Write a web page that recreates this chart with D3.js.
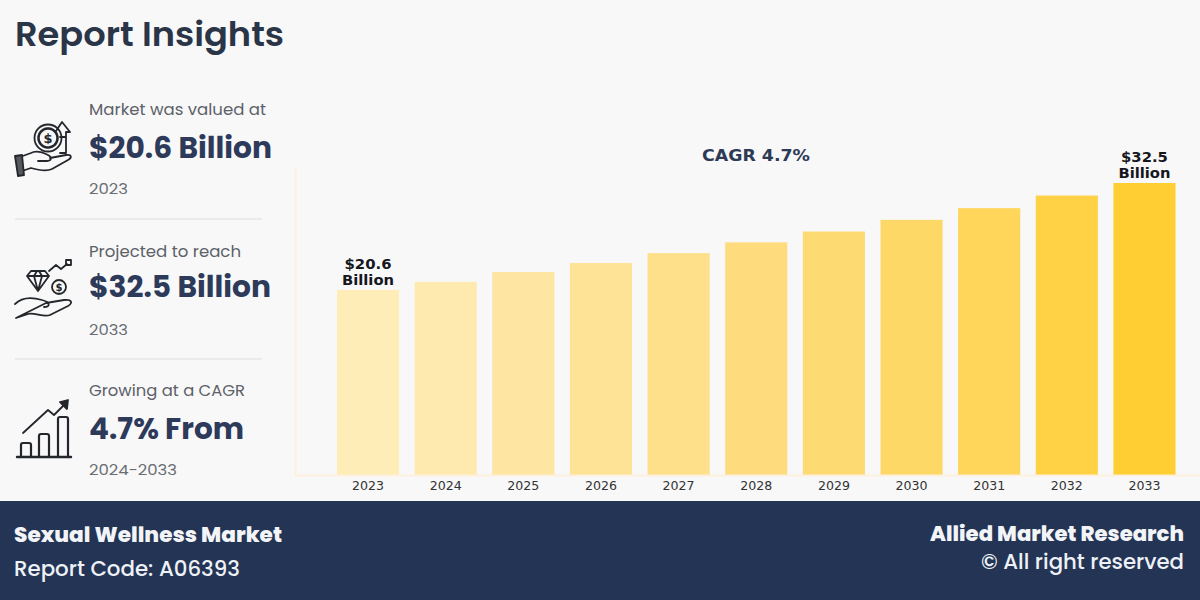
<!DOCTYPE html>
<html><head><meta charset="utf-8">
<script src="https://d3js.org/d3.v7.min.js"></script>
<style>html,body{margin:0;padding:0;background:#f8f8f9;overflow:hidden}svg{display:block}</style>
</head><body><svg id="c" width="1200" height="600"></svg>
<script>
const years = ["2023","2024","2025","2026","2027","2028","2029","2030","2031","2032","2033"];
const marketValues = [20.6,21.5,22.6,23.6,24.7,25.9,27.1,28.4,29.7,31.1,32.5];
const barColors = ["#FEEDB7","#FEEAAE","#FEE5A2","#FEE296","#FEDF8A","#FEDC7E","#FEDA73","#FED867","#FFD55A","#FFD145","#FFCE33"];
const calloutYears = ["2023","2033"];
const calloutLines = {"2023":["$20.6","Billion"],"2033":["$32.5","Billion"]};
const chartTitle = "Report Insights";
const cagrLabel = "CAGR 4.7%";
const footerLeft = ["Sexual Wellness Market","Report Code: A06393"];
const footerRight = ["Allied Market Research","© All right reserved"];
const panelIntro = ["Market was valued at","Projected to reach","Growing at a CAGR"];
const panelValue = ["$20.6 Billion","$32.5 Billion","4.7% From"];
const panelNote = ["2023","2033","2024-2033"];

const svg = d3.select("#c");
const ui = "Poppins, Inter, 'Noto Sans', sans-serif";
const dv = "'DejaVu Sans', sans-serif";
svg.append("rect").attr("width",1200).attr("height",600).attr("fill","#f8f8f9");

function put(str,x,y,size,weight,fill,family,anchor,len){
  const t = svg.append("text").attr("x",x).attr("y",y).text(str)
    .attr("font-size",size).attr("font-weight",weight).attr("fill",fill)
    .attr("font-family",family).attr("text-anchor",anchor||"start");
  if(len) t.attr("textLength",len).attr("lengthAdjust","spacingAndGlyphs");
  return t;
}

put(chartTitle,15,46,34,600,"#2a3547",ui,"start",269);

// left panel
const rowIntroY=[115,257,396], rowValueY=[158,297,439], rowNoteY=[194,335,475];
const introLen=[177,152,156], valueLen=[183,182,155], noteLen=[39,39,88];
panelIntro.forEach((s,i)=>{
  put(s,89,rowIntroY[i],15.5,400,"#5d6168",ui,"start",introLen[i]);
  put(panelValue[i],89,rowValueY[i],29,700,"#2d3a5a",ui,"start",valueLen[i]);
  put(panelNote[i],89,rowNoteY[i],15,400,"#6a6d72",ui,"start",noteLen[i]);
});
[219,359].forEach(y=>svg.append("line").attr("x1",15).attr("x2",262).attr("y1",y).attr("y2",y).attr("stroke","#e7e7e9").attr("stroke-width",1.5));

// icons
const ic = svg.append("g").attr("fill","none").attr("stroke","#23262b").attr("stroke-width",1.8).attr("stroke-linejoin","round").attr("stroke-linecap","round");
// icon 1
ic.append("path").attr("d","M20,157 L31,153 C36,150 42,152 48,155 C52,157 52,161 47,161 L38,161 M50,158 L66,155 C72,154 72,158 68,160 L52,169 C46,172 38,170 31,168 L22,171");
ic.append("path").attr("d","M15,156 L22,155 L24,175 L18,176 Z").attr("fill","#55585c");
ic.append("circle").attr("cx",48).attr("cy",138).attr("r",13.5);
ic.append("circle").attr("cx",48).attr("cy",138).attr("r",9.5).attr("stroke-width",2.6).attr("stroke-dasharray","2 1");
svg.append("text").attr("x",48).attr("y",143).attr("text-anchor","middle").attr("font-size",13).attr("font-weight",700).attr("font-family",dv).attr("fill","#23262b").text("$");
ic.append("path").attr("d","M56,131 L62,122 L70,132 L66,132 L66,153 L60,153 M66,137 L60,137");
// icon 2
ic.append("path").attr("d","M15,304 C22,297 32,297 42,300 C50,302 51,307 44,307 M46,303 L64,300 C72,299 73,303 68,306 L50,315 C44,318 34,312 28,314 L16,318 Z");
ic.append("path").attr("d","M27,276 L31,271 L45,271 L49,276 L38,291 Z M27,276 L49,276 M34,276 L38,291 L42,276 M34,276 L37,271 M42,276 L39,271");
ic.append("circle").attr("cx",59).attr("cy",287).attr("r",7);
svg.append("text").attr("x",59).attr("y",291).attr("text-anchor","middle").attr("font-size",10).attr("font-weight",700).attr("font-family",dv).attr("fill","#23262b").text("$");
ic.append("path").attr("d","M49,271 L56,265 L61,269 L67,264");
ic.append("rect").attr("x",66).attr("y",260).attr("width",5).attr("height",5);
// icon 3
ic.append("path").attr("d","M17,457 L71,457").attr("stroke-width",2.4);
ic.append("path").attr("stroke-width",2.2).attr("d","M21,457 V445 Q21,443 23,443 H29 Q31,443 31,445 V457 M39,457 V436 Q39,434 41,434 H47 Q49,434 49,436 V457 M58,457 V419 Q58,417 60,417 H66 Q68,417 68,419 V457");
ic.append("path").attr("d","M23,433 L48,410 L54,415 L66,403").attr("stroke-width",1.8);
ic.append("path").attr("d","M60,402 L68,400 L67,409 Z").attr("fill","#23262b");

// chart
const x = d3.scaleBand().domain(years).range([329.2,1183.3]).paddingInner(0.2).paddingOuter(0.1);
const y = d3.scaleLinear().domain([0,32.5]).range([475,183]);
const color = d3.scaleOrdinal().domain(years).range(barColors);

svg.append("line").attr("x1",295.5).attr("x2",295.5).attr("y1",168).attr("y2",475).attr("stroke","#fdf0dc").attr("stroke-width",2);
svg.selectAll("rect.bar").data(years).join("rect").attr("class","bar")
  .attr("x",d=>x(d)).attr("width",x.bandwidth())
  .attr("y",(d,i)=>y(marketValues[i])).attr("height",(d,i)=>y(0)-y(marketValues[i]))
  .attr("fill",d=>color(d));
svg.append("line").attr("x1",295).attr("x2",1200).attr("y1",475.5).attr("y2",475.5).attr("stroke","#fdf0dc").attr("stroke-width",2);

const axis = svg.append("g").attr("transform","translate(0,475)").call(d3.axisBottom(x).tickSize(0).tickPadding(6));
axis.select(".domain").remove();
axis.selectAll("text").attr("font-family",dv).attr("font-size",12).attr("fill","#333").attr("textLength",32).attr("lengthAdjust","spacingAndGlyphs");

calloutYears.forEach(yr=>{
  const v = marketValues[years.indexOf(yr)];
  const cx = x(yr)+x.bandwidth()/2;
  calloutLines[yr].forEach((s,k)=>{
    svg.append("text").attr("x",cx).attr("y",y(v)-21+k*16).attr("text-anchor","middle")
      .attr("font-family",dv).attr("font-weight",700).attr("font-size",14).attr("fill","#15171c")
      .attr("textLength",k?52:47).attr("lengthAdjust","spacingAndGlyphs").text(s);
  });
});
put(cagrLabel,756,161,15,700,"#2d3a55",dv,"middle",108);

// footer
svg.append("rect").attr("x",0).attr("y",501).attr("width",1200).attr("height",99).attr("fill","#233455");
put(footerLeft[0],14,542,21,800,"#f2f4f8",ui,"start",268);
put(footerLeft[1],14,576,21.5,500,"#eef1f6",ui,"start",226);
put(footerRight[0],1184,541,21,800,"#f2f4f8",ui,"end",254);
put(footerRight[1],1184,569,21.5,500,"#eef1f6",ui,"end",203);
</script></body></html>
